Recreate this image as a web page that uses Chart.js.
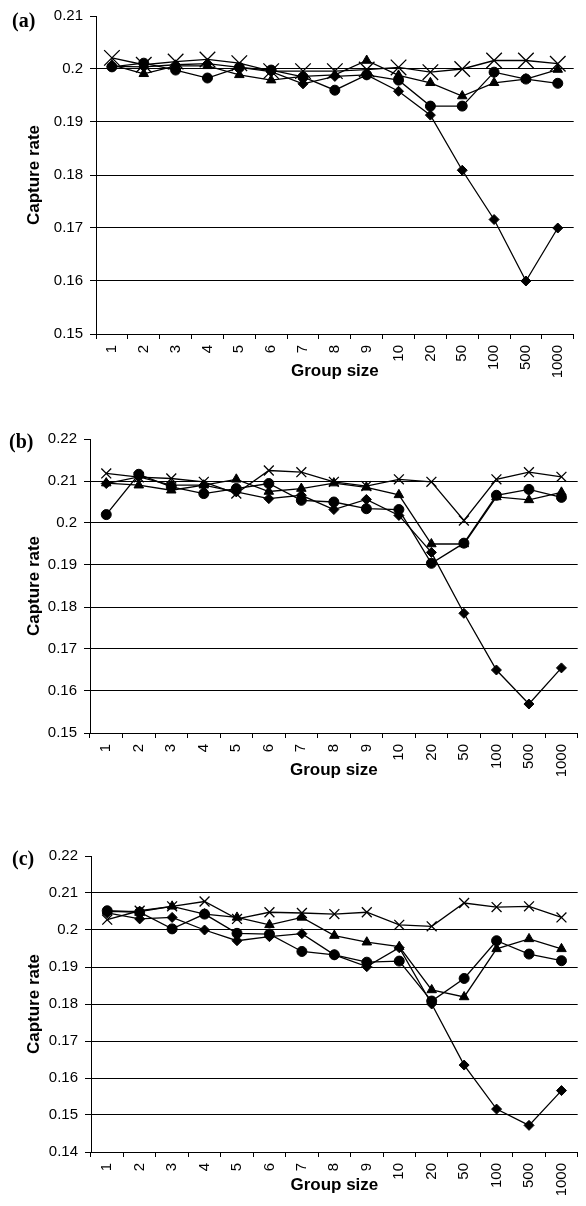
<!DOCTYPE html>
<html>
<head>
<meta charset="utf-8">
<script src="https://cdn.jsdelivr.net/npm/chart.js@4"></script>
<style>
  body { margin: 0; background: #fff; width: 586px; height: 1206px; position: relative; overflow: hidden; }
  .box { position: absolute; left: 0; width: 586px; }
  .tag { position: absolute; font: bold 20px "Liberation Serif", "Times New Roman", serif; color: #000; }
</style>
</head>
<body>
<div class="box" style="top:0;height:400px"><canvas id="chartA"></canvas></div>
<div class="box" style="top:400px;height:410px"><canvas id="chartB"></canvas></div>
<div class="box" style="top:810px;height:396px"><canvas id="chartC"></canvas></div>
<div class="tag" style="left:12px;top:9px">(a)</div>
<div class="tag" style="left:9px;top:430px">(b)</div>
<div class="tag" style="left:12px;top:847px">(c)</div>
<script>
// x categories
const groupSizes = ['1', '2', '3', '4', '5', '6', '7', '8', '9', '10', '20', '50', '100', '500', '1000'];

// panel (a)
const aCross    = [0.2021, 0.2008, 0.2014, 0.2018, 0.2011, 0.1996, 0.1996, 0.1996, 0.1999, 0.2003, 0.1994, 0.2000, 0.2016, 0.2016, 0.2010];
const aDiamond  = [0.2005, 0.2004, 0.2008, 0.2010, 0.2003, 0.1995, 0.1972, 0.1986, 0.1989, 0.1958, 0.1913, 0.1809, 0.1716, 0.1600, 0.1700];
const aTriangle = [0.2008, 0.1991, 0.2006, 0.2006, 0.1989, 0.1979, 0.1986, 0.1989, 0.2016, 0.1988, 0.1974, 0.1949, 0.1974, 0.1981, 0.1999];
const aCircle   = [0.2004, 0.2011, 0.1998, 0.1983, 0.2003, 0.1998, 0.1985, 0.1960, 0.1989, 0.1979, 0.1930, 0.1930, 0.1994, 0.1981, 0.1973];

// panel (b)
const bCross    = [0.2118, 0.2109, 0.2106, 0.2098, 0.2070, 0.2125, 0.2121, 0.2098, 0.2088, 0.2104, 0.2098, 0.2006, 0.2104, 0.2121, 0.2110];
const bDiamond  = [0.2094, 0.2110, 0.2090, 0.2090, 0.2074, 0.2058, 0.2066, 0.2032, 0.2056, 0.2018, 0.1930, 0.1785, 0.1650, 0.1569, 0.1655];
const bTriangle = [0.2095, 0.2090, 0.2078, 0.2090, 0.2104, 0.2075, 0.2082, 0.2095, 0.2085, 0.2067, 0.1950, 0.1950, 0.2062, 0.2055, 0.2073];
const bCircle   = [0.2020, 0.2116, 0.2086, 0.2070, 0.2082, 0.2094, 0.2054, 0.2050, 0.2034, 0.2032, 0.1904, 0.1952, 0.2066, 0.2080, 0.2061];

// panel (c)
const cCross    = [0.2028, 0.2052, 0.2064, 0.2077, 0.2030, 0.2048, 0.2046, 0.2043, 0.2048, 0.2014, 0.2010, 0.2073, 0.2062, 0.2064, 0.2034];
const cDiamond  = [0.2046, 0.2030, 0.2034, 0.2000, 0.1971, 0.1982, 0.1990, 0.1933, 0.1901, 0.1952, 0.1800, 0.1635, 0.1516, 0.1472, 0.1566];
const cTriangle = [0.2050, 0.2050, 0.2064, 0.2043, 0.2034, 0.2014, 0.2034, 0.1985, 0.1967, 0.1955, 0.1838, 0.1819, 0.1949, 0.1976, 0.1949];
const cCircle   = [0.2052, 0.2048, 0.2003, 0.2043, 0.1991, 0.1989, 0.1942, 0.1933, 0.1913, 0.1916, 0.1808, 0.1869, 0.1971, 0.1935, 0.1917];

const FONT = '"Liberation Sans", Arial, sans-serif';

function series(data, style, radius) {
  return {
    data: data,
    borderColor: '#000',
    backgroundColor: '#000',
    borderWidth: 1.3,
    pointStyle: style,
    pointRadius: radius,
    pointBorderWidth: style === 'crossRot' ? 1.3 : 1,
    pointBorderColor: '#000',
    pointBackgroundColor: '#000',
    tension: 0,
    fill: false
  };
}

function makeChart(id, cfg) {
  const yMax = cfg.yMax;
  new Chart(document.getElementById(id), {
    type: 'line',
    data: {
      labels: groupSizes,
      datasets: [
        series(cfg.cross, 'crossRot', cfg.crossR),
        series(cfg.circle, 'circle', 5),
        series(cfg.triangle, 'triangle', 5.5),
        series(cfg.diamond, 'rectRot', 5)
      ]
    },
    options: {
      responsive: true,
      maintainAspectRatio: false,
      animation: false,
      events: [],
      layout: { padding: { top: cfg.padTop, right: 7.5, bottom: 0, left: 0 } },
      plugins: { legend: { display: false }, tooltip: { enabled: false } },
      scales: {
        x: {
          offset: true,
          grid: { offset: true, drawOnChartArea: false, tickLength: 5, color: '#000', lineWidth: 1 },
          border: { color: '#000', width: 1 },
          ticks: { minRotation: 90, maxRotation: 90, padding: 6, color: '#000', font: { family: FONT, size: 15 } },
          title: { display: true, text: 'Group size', color: '#000', font: { family: FONT, size: 17, weight: 'bold' }, padding: { top: 0, bottom: cfg.titlePad } },
          afterFit: (s) => { s.height = cfg.xHeight; }
        },
        y: {
          min: cfg.yMin,
          max: yMax,
          grid: {
            color: (c) => (Math.abs(c.tick.value - yMax) < 1e-9 ? 'rgba(0,0,0,0)' : '#000'),
            tickColor: '#000',
            tickLength: 6,
            lineWidth: 1
          },
          border: { color: '#000', width: 1 },
          ticks: {
            stepSize: 0.01,
            padding: 7,
            color: '#000',
            font: { family: FONT, size: 15 },
            callback: (v) => String(Math.round(v * 100) / 100)
          },
          title: { display: true, text: 'Capture rate', color: '#000', font: { family: FONT, size: 17, weight: 'bold' }, padding: { top: 24, bottom: 0 } },
          afterFit: (s) => { s.width = cfg.yWidth; }
        }
      }
    }
  });
}

makeChart('chartA', { cross: aCross, diamond: aDiamond, triangle: aTriangle, circle: aCircle,
  yMin: 0.15, yMax: 0.21, crossR: 11, padTop: 14, xHeight: 66, titlePad: 18, yWidth: 96 });
makeChart('chartB', { cross: bCross, diamond: bDiamond, triangle: bTriangle, circle: bCircle,
  yMin: 0.15, yMax: 0.22, crossR: 7, padTop: 39, xHeight: 77, titlePad: 29, yWidth: 90 });
makeChart('chartC', { cross: cCross, diamond: cDiamond, triangle: cTriangle, circle: cCircle,
  yMin: 0.14, yMax: 0.22, crossR: 7, padTop: 46, xHeight: 54, titlePad: 10, yWidth: 91 });
</script>
</body>
</html>
